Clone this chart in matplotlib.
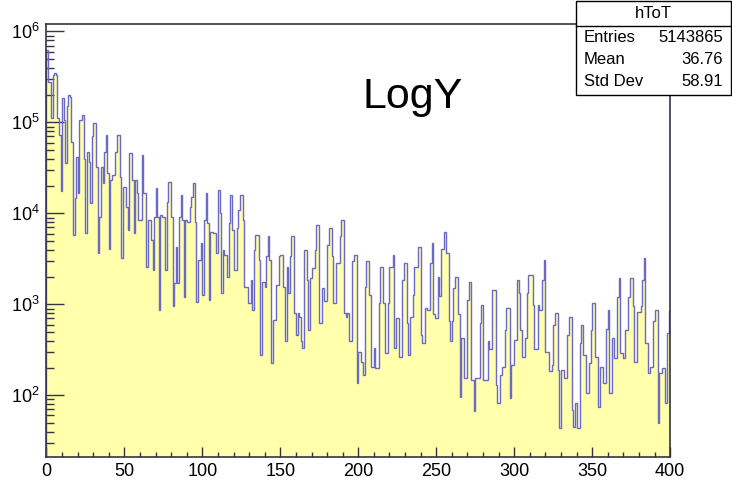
import numpy as np
import matplotlib
matplotlib.use("Agg")
import matplotlib.pyplot as plt
from matplotlib.ticker import LogLocator, MultipleLocator, NullFormatter

plt.rcParams['font.family'] = ['Liberation Sans', 'DejaVu Sans']

# ToT histogram, 400 bins of width 1 from 0 to 400
bin_edges = np.arange(0, 401, 1)
counts = [
    627000, 281000, 281000, 111000, 330000, 347000, 330000, 111000, 73000, 17400,
    185000, 106000, 35600, 150000, 201000, 190000, 61500, 5800, 14700, 42000,
    16700, 106000, 106000, 121000, 40000, 6100, 47700, 37000, 12900, 70000,
    98000, 98000, 32700, 3650, 9200, 32700, 21500, 47700, 73000, 27700,
    4100, 23300, 26500, 26500, 47700, 73000, 73000, 25400, 3200, 19700,
    19700, 11900, 6600, 45800, 45800, 23300, 6100, 23300, 16700, 8500,
    8500, 44000, 16700, 16700, 2600, 8500, 8500, 5100, 2400, 9200,
    18900, 9200, 870, 9600, 9200, 9200, 2400, 13500, 22400, 22400,
    9200, 950, 1700, 4300, 1700, 9200, 16000, 8500, 1200, 8500,
    8100, 8100, 11900, 15000, 21500, 8100, 1070, 3100, 3100, 4700,
    1270, 8500, 16700, 7800, 1120, 6300, 6300, 6100, 6100, 3650,
    18100, 10000, 1330, 3970, 3500, 3500, 2000, 7800, 16000, 6600,
    2400, 2400, 6900, 10900, 16000, 16000, 8500, 1570, 1570, 1030,
    1030, 1860, 870, 3970, 5800, 5800, 3100, 279, 1780, 1780,
    1570, 3360, 5600, 3100, 226, 676, 676, 1640, 1640, 3360,
    3500, 3500, 1570, 391, 2600, 1330, 3360, 5600, 5600, 800,
    463, 800, 735, 400, 330, 3970, 3970, 1860, 525, 1940,
    2500, 2500, 3970, 7500, 7500, 621, 621, 1500, 1100, 1100,
    4500, 6900, 6900, 3360, 1030, 1030, 2830, 2830, 5600, 8500,
    8500, 800, 735, 800, 391, 391, 2960, 3500, 3500, 136,
    303, 303, 235, 168, 1570, 2960, 2960, 1270, 207, 207,
    330, 199, 199, 1030, 2600, 2600, 1030, 290, 290, 1030,
    2600, 2600, 3500, 330, 700, 700, 267, 267, 1860, 2830,
    2830, 621, 279, 735, 735, 1270, 2600, 2600, 4300, 4300,
    463, 375, 375, 908, 871, 871, 2830, 4700, 780, 700,
    700, 2000, 1250, 4100, 4100, 6300, 3650, 3650, 650, 391,
    650, 1500, 2000, 2000, 780, 97, 425, 425, 155, 155,
    1120, 1780, 148, 148, 67, 155, 155, 155, 621, 990,
    148, 148, 148, 391, 320, 320, 1450, 1450, 131, 82,
    82, 168, 207, 207, 525, 908, 908, 93, 215, 215,
    407, 407, 1860, 1330, 525, 267, 267, 425, 1330, 2100,
    2100, 2100, 990, 320, 320, 990, 871, 871, 1860, 3100,
    303, 303, 183, 183, 215, 600, 800, 800, 191, 44,
    191, 191, 155, 155, 463, 735, 735, 69, 45, 82,
    44, 44, 375, 596, 279, 279, 106, 106, 226, 525,
    1030, 1030, 267, 267, 75, 207, 207, 136, 136, 540,
    871, 106, 106, 425, 256, 256, 1200, 1940, 290, 290,
    256, 525, 525, 1200, 1940, 1940, 950, 235, 235, 830,
    830, 950, 1860, 3200, 375, 375, 175, 207, 207, 650,
    871, 871, 50, 175, 175, 199, 199, 82, 480, 850,
]
counts = np.array(counts, dtype=float)

hist_name = 'hToT'
stat_names = ['Entries', 'Mean', 'Std Dev']
stat_values = ['5143865', '36.76', '58.91']

fig = plt.figure(figsize=(7.32, 4.80), dpi=100)
ax = fig.add_axes([0.0635, 0.048, 0.852, 0.9015])

# filled histogram plus outline
ax.stairs(counts, bin_edges, fill=True, baseline=1, color='#ffffac', zorder=1)
ax.stairs(counts, bin_edges, baseline=1, color='#6a6ac4', lw=1.0, zorder=2)

ax.set_yscale('log')
ax.set_xlim(0, 400)
ax.set_ylim(21, 1.2e6)

# ROOT style ticks: inside, bottom and left only
ax.xaxis.set_major_locator(MultipleLocator(50))
ax.xaxis.set_minor_locator(MultipleLocator(10))
ax.yaxis.set_major_locator(LogLocator(base=10, numticks=10))
ax.yaxis.set_minor_locator(LogLocator(base=10, subs=np.arange(2, 10), numticks=20))
ax.yaxis.set_minor_formatter(NullFormatter())
ax.tick_params(axis='x', which='major', direction='in', length=7.5, width=1,
               labelsize=13, pad=4, color='#333344')
ax.tick_params(axis='x', which='minor', direction='in', length=3.8, width=1,
               color='#333344')
ax.tick_params(axis='y', which='major', direction='in', length=13, width=1,
               labelsize=13, pad=5, color='#333344')
ax.tick_params(axis='y', which='minor', direction='in', length=6, width=1,
               color='#333344')
for side in ax.spines.values():
    side.set_linewidth(1.2)
    side.set_color('#333344')

# statistics box
bx0, bx1 = 576 / 732, 731 / 732
by0, by1 = 1 - 95 / 480, 1 - 1 / 480
ysep = 1 - 26 / 480
box = plt.Rectangle((bx0, by0), bx1 - bx0, by1 - by0, transform=fig.transFigure,
                    facecolor='white', edgecolor='black', lw=1.0, zorder=5)
fig.patches.append(box)
fig.add_artist(plt.Line2D([bx0, bx1], [ysep, ysep], transform=fig.transFigure,
                          color='black', lw=1.0, zorder=6))
fig.text((bx0 + bx1) / 2, 1 - 14 / 480, hist_name, ha='center', va='center',
         fontsize=12, zorder=7)
for i, (name, val) in enumerate(zip(stat_names, stat_values)):
    yy = 1 - (38 + 22 * i) / 480
    fig.text(584 / 732, yy, name, ha='left', va='center', fontsize=12, zorder=7)
    fig.text(723 / 732, yy, val, ha='right', va='center', fontsize=12, zorder=7)

fig.text(413 / 732, 1 - 97 / 480, 'LogY', ha='center', va='center', fontsize=31)

fig.savefig('out.png', dpi=100)
